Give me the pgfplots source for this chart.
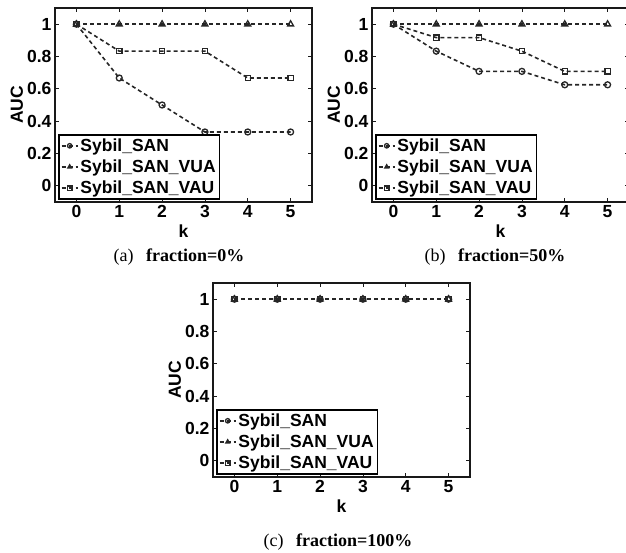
\documentclass[border=0pt]{standalone}
\usepackage{fontspec}
\setmainfont{Liberation Serif}
\newfontfamily\hv{Liberation Sans}
\usepackage{pgfplots}
\pgfplotsset{compat=1.18}

\pgfplotsset{
  aucplot/.style={
    scale only axis, width=257pt, height=194pt,
    xmin=-0.5, xmax=5.5, ymin=-0.1, ymax=1.1,
    xtick={0,1,2,3,4,5}, ytick={0,0.2,0.4,0.6,0.8,1},
    font=\hv\bfseries\fontsize{17.5}{19}\selectfont,
    /pgf/number format/assume math mode=true,
    axis line style={line width=1.1pt, black!90},
    major tick length=4pt,
    tick style={line width=0.8pt, black!90},
    xlabel={k}, ylabel={AUC},
    xlabel style={at={(axis description cs:0.5,-0.149)}, anchor=center},
    ylabel style={at={(axis description cs:-0.148,0.5)}, anchor=center},
    legend cell align=left,
    legend style={at={(axis description cs:0.012,0.01)}, anchor=south west,
      draw=black, line width=1.6pt, inner sep=2pt, row sep=3pt,
      font=\hv\bfseries\fontsize{17.5}{19}\selectfont},
    legend image code/.code={
      \draw[#1, mark repeat=2, mark phase=2, mark size=2.2pt]
        plot coordinates {(0pt,0pt) (8pt,0pt) (16pt,0pt)};},
  },
  sline/.style={black!85, line width=1.6pt, dash pattern=on 4pt off 3pt,
    mark options={solid, fill=white, line width=1.3pt}},
}

\begin{document}
\begin{tikzpicture}
\useasboundingbox (0pt,0pt) rectangle (626pt,552pt);

% (a) fraction = 0%
\begin{axis}[aucplot, at={(55pt,350pt)}, anchor=south west]
  \addplot[sline, mark=o, mark size=3pt] coordinates {
    (0,1) (1,0.667) (2,0.5) (3,0.333) (4,0.333) (5,0.333)};
  \addplot[sline, mark=triangle, mark size=3.4pt] coordinates {
    (0,1) (1,1) (2,1) (3,1) (4,1) (5,1)};
  \addplot[sline, mark=square, mark size=2.6pt] coordinates {
    (0,1) (1,0.833) (2,0.833) (3,0.833) (4,0.667) (5,0.667)};
  \legend{Sybil\_SAN, Sybil\_SAN\_VUA, Sybil\_SAN\_VAU}
\end{axis}

% (b) fraction = 50%
\begin{axis}[aucplot, at={(372pt,350pt)}, anchor=south west]
  \addplot[sline, mark=o, mark size=3pt] coordinates {
    (0,1) (1,0.833) (2,0.708) (3,0.708) (4,0.625) (5,0.625)};
  \addplot[sline, mark=triangle, mark size=3.4pt] coordinates {
    (0,1) (1,1) (2,1) (3,1) (4,1) (5,1)};
  \addplot[sline, mark=square, mark size=2.6pt] coordinates {
    (0,1) (1,0.917) (2,0.917) (3,0.833) (4,0.708) (5,0.708)};
  \legend{Sybil\_SAN, Sybil\_SAN\_VUA, Sybil\_SAN\_VAU}
\end{axis}

% (c) fraction = 100%
\begin{axis}[aucplot, at={(213pt,75pt)}, anchor=south west]
  \addplot[sline, mark=o, mark size=3pt] coordinates {
    (0,1) (1,1) (2,1) (3,1) (4,1) (5,1)};
  \addplot[sline, mark=triangle, mark size=3.4pt] coordinates {
    (0,1) (1,1) (2,1) (3,1) (4,1) (5,1)};
  \addplot[sline, mark=square, mark size=2.6pt] coordinates {
    (0,1) (1,1) (2,1) (3,1) (4,1) (5,1)};
  \legend{Sybil\_SAN, Sybil\_SAN\_VUA, Sybil\_SAN\_VAU}
\end{axis}

\begin{scope}[every node/.style={anchor=base, inner sep=0pt, font=\fontsize{18}{20}\selectfont}]
  \node at (179pt,290pt) {(a)\hspace{0.7em}\textbf{fraction=0\%}};
  \node at (495pt,290pt) {(b)\hspace{0.7em}\textbf{fraction=50\%}};
  \node at (338pt,6pt) {(c)\hspace{0.7em}\textbf{fraction=100\%}};
\end{scope}
\end{tikzpicture}
\end{document}
